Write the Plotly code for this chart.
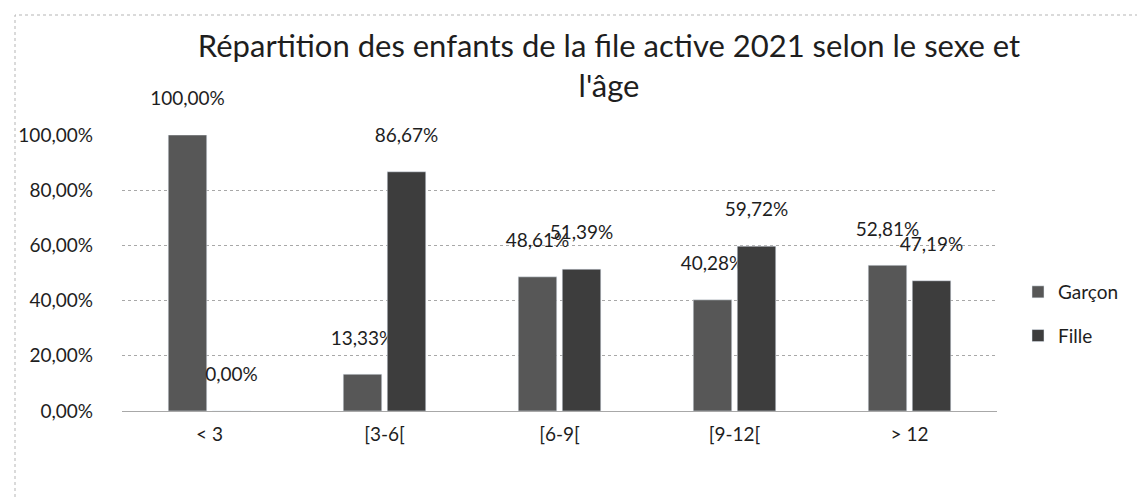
import plotly.graph_objects as go

categories = ["< 3", "[3-6[", "[6-9[", "[9-12[", "> 12"]
garcon = [1.0, 0.1333, 0.4861, 0.4028, 0.5281]
fille = [0.0, 0.8667, 0.5139, 0.5972, 0.4719]
y_ticks = [0, 0.2, 0.4, 0.6, 0.8, 1.0]

W, H = 1145, 497
L, R, T, B = 114, 156, 127, 94
FONT = "Lato, 'Open Sans', sans-serif"
TXT = "#1e1e1e"

label_tpl = "%{y:.2%}<br><span style='font-size:8px'> </span>"

fig = go.Figure()
fig.add_trace(go.Bar(
    name="Garçon", x=categories, y=garcon, marker_color="#575757",
    texttemplate=label_tpl, textposition="outside", cliponaxis=False,
    constraintext="none",
    textfont=dict(size=19, color=TXT, family=FONT), legendgroup="g",
))
fig.add_trace(go.Bar(
    name="Fille", x=categories, y=fille, marker_color="#3d3d3d",
    texttemplate=label_tpl, textposition="outside", cliponaxis=False,
    constraintext="none",
    textfont=dict(size=19, color=TXT, family=FONT), legendgroup="f",
))

pw = W - L - R
ph = H - T - B
fig.add_shape(type="rect", xref="paper", yref="paper",
              x0=(7 - L) / pw, x1=(1141 - L) / pw,
              y0=-(494 - (H - B)) / ph, y1=(H - B - 7) / ph,
              line=dict(color="#b5b5b5", width=1, dash="dot"), layer="below")

fig.update_layout(
    width=W, height=H,
    margin=dict(l=L, r=R, t=T, b=B, autoexpand=False),
    paper_bgcolor="white", plot_bgcolor="white",
    separators=", ",
    font=dict(family=FONT, size=19, color=TXT),
    title=dict(
        text="Répartition des enfants de la file active 2021 selon le sexe et<br>l'âge",
        x=601 / W, xanchor="center", xref="container",
        y=1 - 49 / H, yanchor="middle", yref="container",
        font=dict(size=31, color=TXT, family=FONT),
        automargin=False,
    ),
    barmode="group", bargap=0.497, bargroupgap=0.125,
    showlegend=True,
    legend=dict(
        x=(1010 - L) / pw, xanchor="left", y=(H - B - 306) / ph, yanchor="middle",
        font=dict(size=19, color=TXT, family=FONT), tracegroupgap=16,
        itemwidth=30, bgcolor="rgba(0,0,0,0)",
    ),
    xaxis=dict(
        showgrid=False, showline=False, ticks="", ticklabelstandoff=10,
        tickfont=dict(size=19, color=TXT, family=FONT), automargin=False,
    ),
    yaxis=dict(
        range=[0, 1.0], tickvals=y_ticks, tickformat=".2%",
        showgrid=True, gridcolor="#a8a8a8", gridwidth=1, griddash="dot",
        zeroline=True, zerolinecolor="#a8a8a8", zerolinewidth=1,
        showline=False, ticks="", ticklabelstandoff=28,
        tickfont=dict(size=19, color=TXT, family=FONT), automargin=False,
    ),
)

fig.write_html("out.html")
